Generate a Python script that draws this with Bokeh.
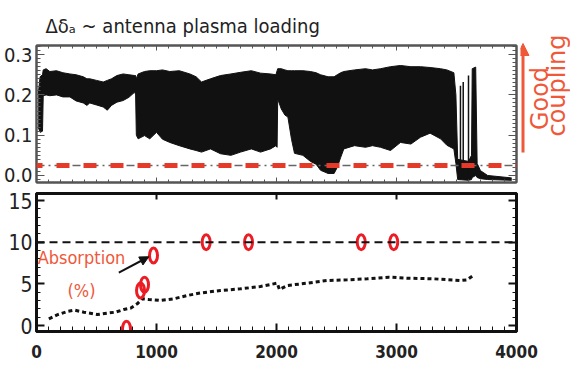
from math import pi
from bokeh.plotting import figure
from bokeh.models import Range1d, LinearAxis, FixedTicker, Span, Label, Arrow, NormalHead
from bokeh.layouts import column, row
from bokeh.embed import file_html
from bokeh.resources import INLINE
from bokeh.core.properties import value

# ---------------- data ----------------
# top panel: upper / lower envelope of the fast-oscillating antenna loading trace
env_t = [14, 30, 50, 56, 80, 111, 167, 220, 278, 330, 390, 420, 444, 500, 556, 590, 625, 670,
         722, 770, 819, 826, 832, 847, 900, 944, 1000, 1050, 1111, 1190, 1278, 1330, 1375, 1450,
         1533, 1620, 1700, 1790, 1867, 1950, 1995, 2005, 2010, 2040, 2070, 2095, 2125, 2150,
         2220, 2283, 2330, 2367, 2430, 2480, 2506, 2535, 2561, 2650, 2742, 2800, 2867, 2950,
         3033, 3120, 3200, 3280, 3367, 3420, 3478, 3495, 3510, 3600, 3625, 3631, 3660, 3672,
         3700, 3760, 3960]
env_hi = [0.20, 0.245, 0.25, 0.262, 0.265, 0.258, 0.26, 0.255, 0.252, 0.25, 0.245, 0.24, 0.24,
          0.236, 0.232, 0.236, 0.24, 0.248, 0.252, 0.25, 0.248, 0.248, 0.24, 0.252, 0.258, 0.26,
          0.26, 0.262, 0.258, 0.26, 0.252, 0.245, 0.232, 0.24, 0.248, 0.252, 0.256, 0.26, 0.254,
          0.252, 0.25, 0.26, 0.265, 0.265, 0.262, 0.26, 0.26, 0.26, 0.26, 0.258, 0.255, 0.25,
          0.245, 0.245, 0.25, 0.255, 0.258, 0.262, 0.265, 0.262, 0.265, 0.27, 0.273, 0.27, 0.27,
          0.268, 0.265, 0.262, 0.255, 0.2, 0.04, 0.035, 0.05, 0.265, 0.269, 0.03, 0.012, 0.0,
          -0.006]
env_lo = [0.12, 0.107, 0.11, 0.198, 0.20, 0.198, 0.20, 0.195, 0.195, 0.185, 0.18, 0.174, 0.18,
          0.175, 0.17, 0.162, 0.174, 0.182, 0.186, 0.194, 0.207, 0.20, 0.10, 0.091, 0.099, 0.091,
          0.107, 0.09, 0.082, 0.074, 0.066, 0.062, 0.058, 0.066, 0.054, 0.05, 0.058, 0.066, 0.058,
          0.066, 0.074, 0.07, 0.19, 0.165, 0.15, 0.145, 0.09, 0.055, 0.05, 0.035, 0.028, 0.013,
          0.005, 0.005, 0.02, 0.045, 0.066, 0.074, 0.07, 0.074, 0.07, 0.062, 0.082, 0.078, 0.095,
          0.105, 0.091, 0.075, 0.066, 0.03, -0.01, -0.012, -0.01, -0.005, 0.0, -0.005, -0.008,
          -0.01, -0.012]
spike_t = [3533, 3556, 3600]
spike_top = [0.223, 0.232, 0.248]
threshold = 0.025

# bottom panel: absorption (%)
abs_t = [750, 867, 900, 975, 1414, 1767, 2706, 2977]
abs_v = [-0.4, 4.2, 4.9, 8.4, 10.0, 10.0, 10.0, 10.0]
curve_t = [103, 172, 256, 317, 394, 506, 589, 658, 728, 783, 839, 881, 936, 1033, 1144, 1256,
           1367, 1533, 1700, 1867, 2006, 2025, 2089, 2256, 2422, 2589, 2756, 2936, 3089, 3311,
           3533, 3589, 3631]
curve_v = [0.8, 1.28, 1.68, 1.84, 1.6, 1.32, 1.48, 1.6, 1.92, 2.08, 2.6, 3.2, 3.12, 3.0, 3.2, 3.6,
           3.9, 4.2, 4.4, 4.68, 5.08, 4.32, 4.8, 5.08, 5.4, 5.48, 5.6, 5.8, 5.68, 5.6,
           5.4, 5.48, 5.92]
level_10 = 10

x_ticks = [0, 1000, 2000, 3000, 4000]
top_y_ticks = [0.0, 0.1, 0.2, 0.3]
top_y_labels = {0.0: "0.0", 0.1: "0.1", 0.2: "0.2", 0.3: "0.3"}
bot_y_ticks = [0, 5, 10, 15]
side_texts = ["Good", "coupling"]

# ---------------- style ----------------
CF = "DejaVu Sans Condensed"
ORANGE = "#f0583a"
RED = "#ec1c24"

xr = Range1d(0, 4000)


def add_axis(p, side, ticks, minor, color, lw, show_labels, font_size="16px", bold=False,
             tick_in=8, minor_in=4, overrides=None, standoff=4):
    ax = LinearAxis(ticker=FixedTicker(ticks=ticks, minor_ticks=minor))
    ax.axis_line_color = color
    ax.axis_line_width = lw
    ax.major_tick_in = tick_in
    ax.major_tick_out = 0
    ax.minor_tick_in = minor_in
    ax.minor_tick_out = 0
    ax.major_tick_line_color = color
    ax.minor_tick_line_color = color
    ax.major_tick_line_width = max(1, lw - 1)
    ax.minor_tick_line_width = 1
    if overrides:
        ax.major_label_overrides = overrides
    if show_labels:
        ax.major_label_text_font = CF
        ax.major_label_text_font_size = font_size
        ax.major_label_text_color = "#222222"
        ax.major_label_text_font_style = "bold" if bold else "normal"
        ax.major_label_standoff = standoff
    else:
        ax.major_label_text_font_size = "1px"
        ax.major_label_text_color = None
        ax.major_label_standoff = 0
    p.add_layout(ax, side)
    return ax


# ---------------- top panel ----------------
p1 = figure(width=520, height=188, x_range=xr, y_range=Range1d(-0.0174, 0.3226),
            output_backend="svg", toolbar_location=None,
            x_axis_location=None, y_axis_location=None,
            min_border_left=36, min_border_right=4, min_border_top=45, min_border_bottom=6)
p1.grid.visible = False
p1.outline_line_color = "#555555"
p1.outline_line_width = 2
p1.background_fill_color = "white"
p1.border_fill_color = "white"
p1.title.text = "Δδₐ ~ antenna plasma loading"
p1.title.text_font = CF
p1.title.text_font_size = "20px"
p1.title.text_font_style = "normal"
p1.title.text_color = "#222222"
p1.title.align = "left"
p1.title.offset = 9
p1.title.standoff = 15

xminor = list(range(0, 4001, 100))
tminor = [i / 100 for i in range(-1, 33)]
add_axis(p1, "left", top_y_ticks, tminor, "#555555", 2, True, font_size="20px",
         overrides=top_y_labels)
add_axis(p1, "right", top_y_ticks, tminor, "#555555", 2, False)
add_axis(p1, "above", x_ticks, xminor, "#555555", 2, False, tick_in=5, minor_in=3)
add_axis(p1, "below", x_ticks, xminor, "#555555", 2, False, tick_in=5, minor_in=3)

p1.varea(x=env_t, y1=env_lo, y2=env_hi, fill_color="#111111")
p1.line(x=env_t, y=env_hi, line_color="#111111", line_width=1)
p1.line(x=env_t, y=env_lo, line_color="#111111", line_width=1)
p1.segment(x0=spike_t, y0=[-0.01] * len(spike_t), x1=spike_t, y1=spike_top,
           line_color="#111111", line_width=1.5)

p1.add_layout(Span(location=threshold, dimension="width", line_color="#666666",
                   line_width=1.5, line_dash="8 4 2 4"))
p1.add_layout(Span(location=threshold, dimension="width", line_color="#e53a2a",
                   line_width=5, line_dash="13 14", line_dash_offset=7))

# side strip with the "Good coupling" arrow (coordinates: page pixels, y measured up)
ps = figure(width=50, height=188, x_range=Range1d(0, 50), y_range=Range1d(0, 188),
            output_backend="svg", toolbar_location=None,
            x_axis_location=None, y_axis_location=None,
            min_border_left=0, min_border_right=0, min_border_top=0, min_border_bottom=0)
ps.frame_align = False
ps.grid.visible = False
ps.outline_line_color = None
ps.background_fill_color = "white"
ps.border_fill_color = "white"
ps.add_layout(Arrow(end=NormalHead(size=12, fill_color=ORANGE, line_color=ORANGE),
                    x_start=2.5, y_start=36, x_end=2.5, y_end=145,
                    line_color=ORANGE, line_width=3))
ps.text(x=[19, 36], y=[90, 103], text=side_texts, angle=pi / 2,
        text_align="center", text_baseline="middle", text_font=value("DejaVu Sans"),
        text_font_size="24px", text_color=ORANGE)

# ---------------- bottom panel ----------------
p2 = figure(width=570, height=182, x_range=xr, y_range=Range1d(-0.72, 15.84),
            output_backend="svg", toolbar_location=None,
            x_axis_location=None, y_axis_location=None,
            min_border_left=36, min_border_right=54, min_border_top=5, min_border_bottom=39)
p2.grid.visible = False
p2.outline_line_color = "#111111"
p2.outline_line_width = 3
p2.background_fill_color = "white"
p2.border_fill_color = "white"

bminor = list(range(0, 16))
add_axis(p2, "left", bot_y_ticks, bminor, "#111111", 3, True, font_size="21px")
add_axis(p2, "right", bot_y_ticks, bminor, "#111111", 3, False)
add_axis(p2, "above", x_ticks, [], "#111111", 3, False, tick_in=6, minor_in=0)
add_axis(p2, "below", x_ticks, xminor, "#111111", 3, True, font_size="17px", bold=True,
         tick_in=8, minor_in=5, standoff=13)

p2.add_layout(Span(location=level_10, dimension="width", line_color="#111111",
                   line_width=2, line_dash="8 5"))
p2.line(x=curve_t, y=curve_v, line_color="#111111", line_width=3, line_dash="4 3")
p2.ellipse(x=abs_t, y=abs_v, width=8, height=15, width_units="screen", height_units="screen",
           fill_color=None, line_color=RED, line_width=3)

p2.add_layout(Label(x=375, y=6.96, text="Absorption", text_align="center",
                    text_font=CF, text_font_size="18px", text_color=ORANGE))
p2.add_layout(Label(x=375, y=3.0, text="(%)", text_align="center",
                    text_font=CF, text_font_size="18px", text_color=ORANGE))
p2.add_layout(Arrow(end=NormalHead(size=9, fill_color="#111111", line_color="#111111"),
                    x_start=686, y_start=6.35, x_end=936, y_end=8.25,
                    line_color="#111111", line_width=2))

layout = column(row(p1, ps, spacing=0), p2, spacing=0)
open("out.html", "w").write(file_html(layout, INLINE))
